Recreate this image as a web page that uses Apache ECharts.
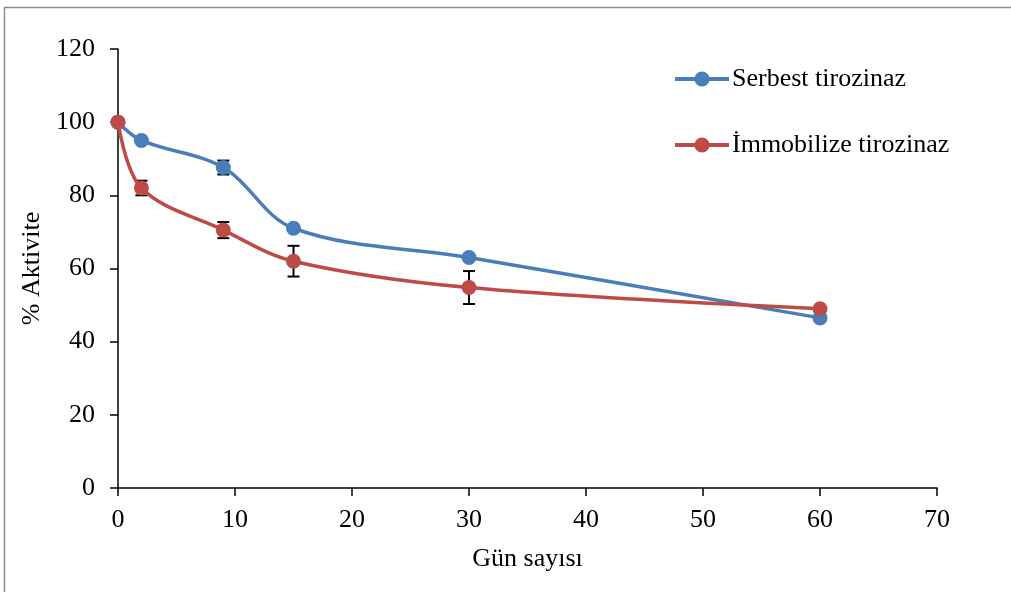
<!DOCTYPE html>
<html>
<head>
<meta charset="utf-8">
<script src="https://cdn.jsdelivr.net/npm/echarts@6/dist/echarts.min.js"></script>
<style>
html, body { margin: 0; padding: 0; background: #fff; }
#chart { width: 1011px; height: 592px; }
</style>
</head>
<body>
<div id="chart"></div>
<script>
// gün sayısı ve % aktivite değerleri
var days = [0, 2, 9, 15, 30, 60];
var serbest = [100, 95, 87.6, 71, 63, 46.5];
var immobilize = [100, 82, 70.5, 62, 54.8, 49];
var serbestErr = [0, 0, 1.9, 0, 0, 0];
var immobilizeErr = [0, 2, 2.2, 4.2, 4.5, 0];

var font = '"Liberation Serif", "Times New Roman", serif';

function pairs(xs, ys) {
    return xs.map(function (x, i) { return [x, ys[i]]; });
}

function errData(xs, ys, es) {
    var out = [];
    xs.forEach(function (x, i) {
        if (es[i] > 0) out.push([x, ys[i] - es[i], ys[i] + es[i]]);
    });
    return out;
}

function renderErr(params, api) {
    var lo = api.coord([api.value(0), api.value(1)]);
    var hi = api.coord([api.value(0), api.value(2)]);
    var w = 6;
    var style = { stroke: '#000', lineWidth: 2 };
    return {
        type: 'group',
        children: [
            { type: 'line', shape: { x1: lo[0], y1: lo[1], x2: hi[0], y2: hi[1] }, style: style },
            { type: 'line', shape: { x1: lo[0] - w, y1: lo[1], x2: lo[0] + w, y2: lo[1] }, style: style },
            { type: 'line', shape: { x1: hi[0] - w, y1: hi[1], x2: hi[0] + w, y2: hi[1] }, style: style }
        ]
    };
}

var myChart = echarts.init(document.getElementById('chart'));
var option = {
    animation: false,
    color: ['#4a7ebb', '#be4b48'],
    textStyle: { fontFamily: font },
    graphic: [{
        type: 'rect',
        shape: { x: 4.5, y: 7.5, width: 1020, height: 600 },
        style: { fill: 'none', stroke: '#8c8c8c', lineWidth: 1.5 },
        silent: true
    }],
    grid: { left: 118, right: 74, top: 49, bottom: 104 },
    legend: {
        orient: 'vertical',
        left: 668,
        top: 61,
        itemGap: 40,
        itemWidth: 54,
        itemHeight: 19,
        lineStyle: { width: 4 },
        textStyle: { fontFamily: font, fontSize: 26, color: '#000', padding: [0, 0, 0, -2] },
        data: ['Serbest tirozinaz', 'İmmobilize tirozinaz']
    },
    xAxis: {
        type: 'value',
        min: 0, max: 70, interval: 10,
        name: 'Gün sayısı',
        nameLocation: 'middle',
        nameGap: 58,
        nameTextStyle: { fontFamily: font, fontSize: 26, color: '#000' },
        axisLine: { lineStyle: { color: '#000', width: 1.5 } },
        axisTick: { inside: false, length: 8, lineStyle: { color: '#000', width: 1.5 } },
        axisLabel: { fontFamily: font, fontSize: 26, color: '#000', margin: 19 },
        splitLine: { show: false }
    },
    yAxis: {
        type: 'value',
        min: 0, max: 120, interval: 20,
        name: '% Aktivite',
        nameLocation: 'middle',
        nameGap: 71,
        nameTextStyle: { fontFamily: font, fontSize: 26, color: '#000' },
        axisLine: { show: true, lineStyle: { color: '#000', width: 1.5 } },
        axisTick: { show: true, inside: false, length: 8, lineStyle: { color: '#000', width: 1.5 } },
        axisLabel: { fontFamily: font, fontSize: 26, color: '#000', margin: 23 },
        splitLine: { show: false }
    },
    series: [
        {
            type: 'custom',
            name: 'serbestErr',
            renderItem: renderErr,
            data: errData(days, serbest, serbestErr),
            z: 1,
            silent: true
        },
        {
            type: 'custom',
            name: 'immobilizeErr',
            renderItem: renderErr,
            data: errData(days, immobilize, immobilizeErr),
            z: 1,
            silent: true
        },
        {
            type: 'line',
            name: 'Serbest tirozinaz',
            data: pairs(days, serbest),
            smooth: 0.35,
            symbol: 'circle',
            symbolSize: 15,
            lineStyle: { width: 3.5 },
            z: 3
        },
        {
            type: 'line',
            name: 'İmmobilize tirozinaz',
            data: pairs(days, immobilize),
            smooth: 0.35,
            symbol: 'circle',
            symbolSize: 15,
            lineStyle: { width: 3.5 },
            z: 4
        }
    ]
};
myChart.setOption(option, true);
</script>
</body>
</html>
